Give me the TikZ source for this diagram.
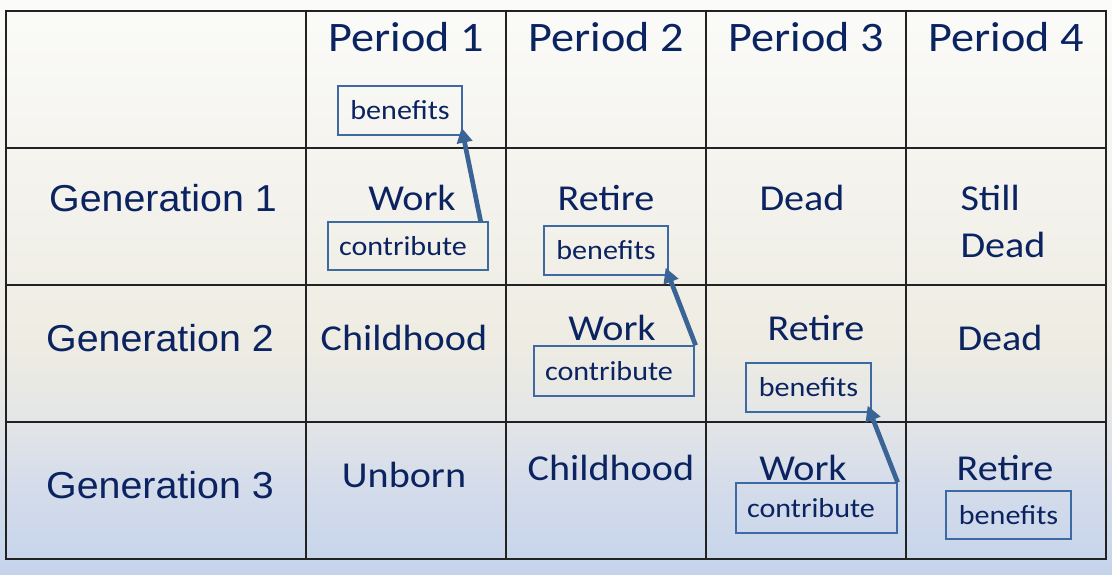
\documentclass[tikz,border=0pt]{standalone}
\usepackage{fontspec}
\setmainfont[FakeStretch=1.1]{Carlito}
\newfontfamily\arialf[FakeStretch=1.05]{Liberation Sans}
\usetikzlibrary{arrows.meta}
\definecolor{txt}{HTML}{0B2461}
\definecolor{boxc}{HTML}{3D6AA3}
\definecolor{arrc}{HTML}{3A6495}
\definecolor{gridc}{HTML}{222222}
\definecolor{bgA}{HTML}{C5D3EA}
\definecolor{bgB}{HTML}{C8D5EB}
\definecolor{bgC}{HTML}{D4DCEA}
\definecolor{bgD}{HTML}{E3E5E7}
\definecolor{bgE}{HTML}{EEECE2}
\definecolor{bgF}{HTML}{F4F3EE}
\definecolor{bgG}{HTML}{FBFBF9}
\pgfdeclareverticalshading{bgshade}{100bp}{
  color(0bp)=(bgA);
  color(25bp)=(bgA);
  color(26.5bp)=(bgB);
  color(32.5bp)=(bgC);
  color(38.25bp)=(bgD);
  color(45bp)=(bgE);
  color(60bp)=(bgF);
  color(75bp)=(bgG);
  color(100bp)=(bgG)}
\begin{document}
\begin{tikzpicture}[x=1pt,y=-1pt,
  hdr/.style={text=txt,font=\fontsize{42}{49}\selectfont},
  cell/.style={text=txt,font=\fontsize{36.5}{47}\selectfont},
  gen/.style={text=txt,font=\arialf\fontsize{37.5}{44}\selectfont},
  tbox/.style={draw=boxc,line width=1.3pt,text=txt,inner sep=0pt,
     font=\fontsize{27.4}{32}\selectfont},
  flow/.style={draw=arrc,line width=4.7pt,-{Triangle[length=15pt,width=15pt]}},
  gridline/.style={draw=gridc,line width=2.7pt}]
\useasboundingbox (0,0) rectangle (1112,574);
\shade[shading=bgshade] (0,0) rectangle (1112,574);
% grid
\draw[gridline] (6,11) rectangle (1106,559);
\foreach \x in {306,506,706,906} \draw[gridline] (\x,11) -- (\x,559);
\foreach \y in {148,285,422} \draw[gridline] (6,\y) -- (1106,\y);
% headers
\node[hdr] (p1) at (406,37) {Period 1};
\node[hdr] (p2) at (606,37) {Period 2};
\node[hdr] (p3) at (806,37) {Period 3};
\node[hdr] (p4) at (1006,37) {Period 4};
% generation labels
\node[gen] (g1) at (163,198) {Generation 1};
\node[gen] (g2) at (160,338) {Generation 2};
\node[gen] (g3) at (160,485) {Generation 3};
% cells
\node[cell] (w1) at (412,198) {Work};
\node[cell] (r1) at (606,198) {Retire};
\node[cell] (d1) at (802,198) {Dead};
\node[cell,anchor=west,align=left] (sd) at (957,221) {Still\\Dead};
\node[cell] (ch2) at (404,338) {Childhood};
\node[cell] (w2) at (612,328) {Work};
\node[cell] (r2) at (816,328) {Retire};
\node[cell] (d2) at (1000,338) {Dead};
\node[cell] (ub3) at (404,475) {Unborn};
\node[cell] (ch3) at (611,468) {Childhood};
\node[cell] (w3) at (803,468) {Work};
\node[cell] (r3) at (1005,468) {Retire};
% boxes
\node[tbox,minimum width=124pt,minimum height=49pt] (b0) at (400,110.5) {benefits};
\node[tbox,minimum width=160pt,minimum height=48pt,text width=160pt,align=left] (c1) at (408,246) {\hspace*{11pt}contribute};
\node[tbox,minimum width=124pt,minimum height=49pt] (b1) at (606,250.5) {benefits};
\node[tbox,minimum width=160pt,minimum height=50pt,text width=160pt,align=left] (c2) at (614,371) {\hspace*{11pt}contribute};
\node[tbox,minimum width=125pt,minimum height=49pt] (b2) at (808.5,387.5) {benefits};
\node[tbox,minimum width=161pt,minimum height=50pt,text width=161pt,align=left] (c3) at (816.5,508) {\hspace*{11pt}contribute};
\node[tbox,minimum width=125pt,minimum height=48pt] (b3) at (1008.5,515) {benefits};
% arrows
\draw[flow] ([xshift=-8pt]c1.north east) -- ([shift={(-1pt,8pt)}]b0.south east);
\draw[flow] ([xshift=1pt]c2.north east) -- ([shift={(-3pt,8pt)}]b1.south east);
\draw[flow] (c3.north east) -- ([shift={(-4pt,7pt)}]b2.south east);
\end{tikzpicture}
\end{document}
